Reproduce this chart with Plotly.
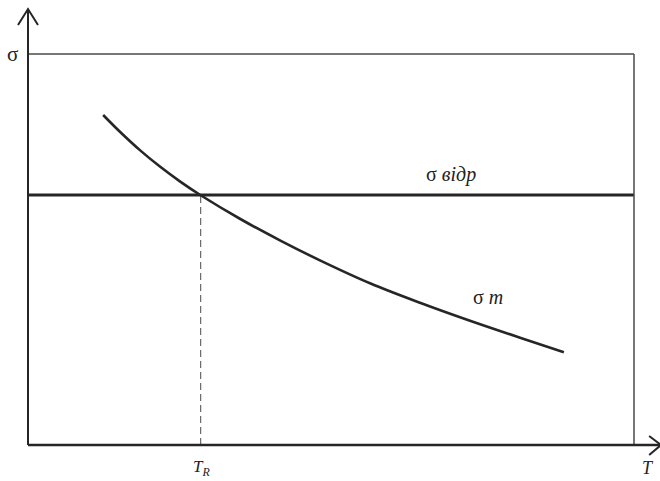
import plotly.graph_objects as go

# Data (relative units, T and sigma scaled 0..100)
t_curve = [12.40, 15.21, 18.51, 21.82, 25.12, 28.43, 35.04, 41.65, 48.26,
           56.53, 64.79, 73.06, 81.32, 88.43]
sigma_m = [84.40, 80.05, 75.35, 71.15, 67.37, 63.94, 57.80, 52.28, 47.16,
           41.30, 36.32, 31.71, 27.37, 23.73]
sigma_vidr = 63.94
t_r = 28.5
x_range = [0, 100]
y_range = [0, 100]

DARK = "#262626"
GRAY = "#4a4a4a"
FONT = "Liberation Serif"

fig = go.Figure()

# horizontal sigma_vidr line
fig.add_trace(go.Scatter(x=x_range, y=[sigma_vidr, sigma_vidr], mode="lines",
                         line=dict(color=DARK, width=3), hoverinfo="skip"))
# dashed vertical at T_R
fig.add_trace(go.Scatter(x=[t_r, t_r], y=[y_range[0], sigma_vidr], mode="lines",
                         line=dict(color=GRAY, width=1, dash="7px,4px"), hoverinfo="skip"))
# sigma_m curve
fig.add_trace(go.Scatter(x=t_curve, y=sigma_m, mode="lines", line_shape="spline",
                         line=dict(color=DARK, width=2.6), hoverinfo="skip"))

shapes = [
    dict(type="line", xref="paper", yref="paper", x0=0, x1=1.0, y0=1, y1=1,
         line=dict(color=GRAY, width=1.5)),
    dict(type="line", xref="paper", yref="paper", x0=1.0, x1=1.0, y0=0, y1=1,
         line=dict(color=GRAY, width=1.5)),
    dict(type="line", xref="paper", yref="paper", x0=0, x1=0, y0=0, y1=1.112,
         line=dict(color=DARK, width=2)),
    dict(type="path", xref="paper", yref="paper",
         path="M -0.0165 1.074 L 0 1.115 L 0.0165 1.074",
         line=dict(color=DARK, width=2)),
    dict(type="line", xref="paper", yref="paper", x0=0, x1=1.043, y0=0, y1=0,
         line=dict(color=DARK, width=2.5)),
    dict(type="path", xref="paper", yref="paper",
         path="M 1.025 0.023 L 1.0446 0 L 1.025 -0.0256",
         line=dict(color=DARK, width=2)),
]

annotations = [
    dict(text="σ", x=-0.026, y=1.0, xref="paper", yref="paper", showarrow=False,
         xanchor="center", yanchor="middle", font=dict(size=21, family=FONT, color="#222")),
    dict(text="σ <i>відр</i>", x=0.698, y=0.692, xref="paper", yref="paper", showarrow=False,
         xanchor="center", yanchor="middle", font=dict(size=20, family=FONT, color="#222")),
    dict(text="σ <i>m</i>", x=0.759, y=0.378, xref="paper", yref="paper", showarrow=False,
         xanchor="center", yanchor="middle", font=dict(size=20, family=FONT, color="#222")),
    dict(text="<i>T<sub>R</sub></i>", x=0.286, y=-0.06, xref="paper", yref="paper", showarrow=False,
         xanchor="center", yanchor="middle", font=dict(size=17, family=FONT, color="#222")),
    dict(text="<i>T</i>", x=1.023, y=-0.06, xref="paper", yref="paper", showarrow=False,
         xanchor="center", yanchor="middle", font=dict(size=18, family=FONT, color="#222")),
]

fig.update_layout(
    width=660, height=481,
    margin=dict(l=28, r=26, t=54, b=36),
    paper_bgcolor="white", plot_bgcolor="white",
    showlegend=False,
    shapes=shapes, annotations=annotations,
    xaxis=dict(range=x_range, showgrid=False, zeroline=False, showticklabels=False,
               showline=False, ticks=""),
    yaxis=dict(range=y_range, showgrid=False, zeroline=False, showticklabels=False,
               showline=False, ticks=""),
)

fig.write_html("out.html", config={"displayModeBar": False},
               post_script="document.body.style.margin='0';document.body.style.overflow='hidden';")
